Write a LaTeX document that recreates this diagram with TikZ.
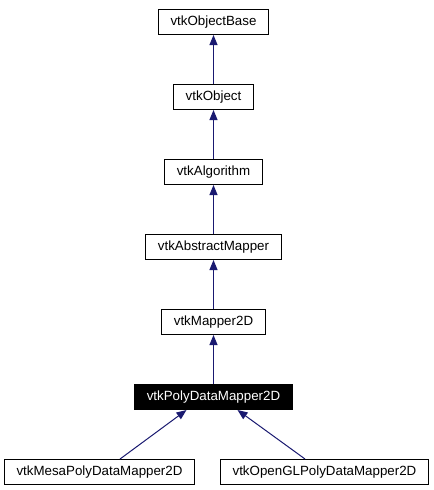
\documentclass[tikz,border=0pt]{standalone}
\usepackage{fontspec}
\setmainfont{Liberation Sans}
\usetikzlibrary{positioning,arrows.meta}
\definecolor{edgeblue}{HTML}{191970}

\begin{document}
\begin{tikzpicture}[x=0.75pt,y=-0.75pt,
			box/.style={draw,rectangle,line width=0.75pt,minimum height=18.75pt,inner xsep=9pt,inner ysep=0pt,font=\fontsize{10pt}{12pt}\selectfont},
			cur/.style={box,fill=black,text=white},
			inh/.style={draw=edgeblue,line width=0.75pt,{Triangle[length=7.5pt,width=6pt,fill=edgeblue]}-},
			node distance=36.75pt]
			\useasboundingbox (0,0) rectangle (434,490);
			% class chain
			\node (base) [box] at (213.5,22) {vtkObjectBase};
			\node (obj) [box,below=of base] {vtkObject};
			\node (alg) [box,below=of obj] {vtkAlgorithm};
			\node (absmap) [box,below=of alg] {vtkAbstractMapper};
			\node (map2d) [box,below=of absmap] {vtkMapper2D};
			\node (pdmap) [cur,below=of map2d] {vtkPolyDataMapper2D};
			% subclasses
			\node (mesa) [box,below=of pdmap,xshift=-85.5pt] {vtkMesaPolyDataMapper2D};
			\node (ogl) [box,below=of pdmap,xshift=83.25pt] {vtkOpenGLPolyDataMapper2D};

			\draw [inh] (base) -- (obj);
			\draw [inh] (obj) -- (alg);
			\draw [inh] (alg) -- (absmap);
			\draw [inh] (absmap) -- (map2d);
			\draw [inh] (map2d) -- (pdmap);
			\draw [inh] ([xshift=-20.25pt]pdmap.south) -- ([xshift=15.4pt]mesa.north);
			\draw [inh] ([xshift=18pt]pdmap.south) -- ([xshift=-14.6pt]ogl.north);
		\end{tikzpicture}
\end{document}
